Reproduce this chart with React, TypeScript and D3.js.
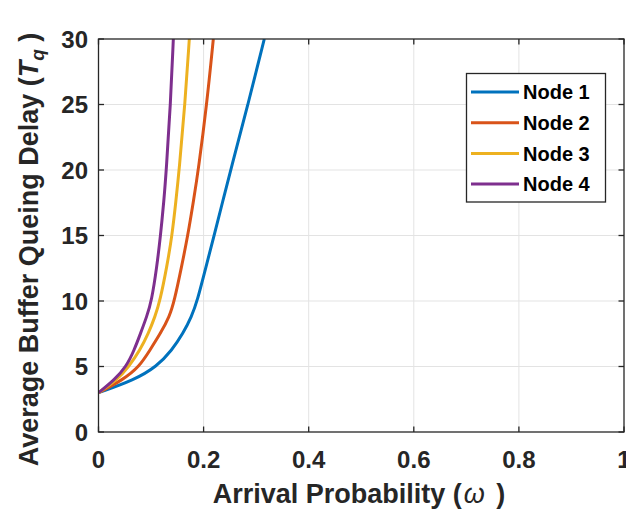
import React, { useEffect, useRef } from 'react';
import * as d3 from 'd3';

// delay values (y) where each curve was read, shared by all nodes
const delayLevels = [3, 3.97, 5, 6.26, 7.53, 8.8, 10, 12.6, 15, 17.7, 20, 25, 30];
// arrival probability (x) of each node at those delay levels
const node1 = [0, 0.068, 0.111, 0.14, 0.161, 0.177, 0.188, 0.2045, 0.22, 0.237, 0.2515, 0.2845, 0.3155];
const node2 = [0, 0.046, 0.078, 0.098, 0.118, 0.135, 0.1443, 0.158, 0.17, 0.181, 0.19, 0.206, 0.2185];
const node3 = [0, 0.035, 0.058, 0.079, 0.095, 0.1075, 0.117, 0.13, 0.14, 0.1475, 0.1535, 0.1645, 0.1728];
const node4 = [0, 0.03, 0.053, 0.068, 0.08, 0.0917, 0.101, 0.111, 0.118, 0.1246, 0.129, 0.137, 0.1424];

const seriesNames = ['Node 1', 'Node 2', 'Node 3', 'Node 4'];
const seriesColors = ['#0072BD', '#D95319', '#EDB120', '#7E2F8E'];
const xTicks = [0, 0.2, 0.4, 0.6, 0.8, 1];
const yTicks = [0, 5, 10, 15, 20, 25, 30];

const App = () => {
  const svgRef = useRef<SVGSVGElement>(null);

  useEffect(() => {
    document.body.style.margin = '0';
    const svg = d3.select(svgRef.current);
    svg.selectAll('*').remove();

    const W = 626;
    const H = 514;
    const left = 98.5;
    const right = 624;
    const top = 39;
    const bottom = 432;
    const axisColor = '#262626';
    const font = 'Liberation Sans, Arial, Helvetica, sans-serif';

    const x = d3.scaleLinear().domain([0, 1]).range([left, right]);
    const y = d3.scaleLinear().domain([0, 30]).range([bottom, top]);

    svg.attr('width', W).attr('height', H);
    svg.append('rect').attr('width', W).attr('height', H).attr('fill', '#fff');

    // grid
    const grid = svg.append('g').attr('stroke', '#e3e3e3').attr('stroke-width', 1);
    xTicks.slice(1, -1).forEach(t => {
      grid.append('line').attr('x1', x(t)).attr('x2', x(t)).attr('y1', top).attr('y2', bottom);
    });
    yTicks.slice(1, -1).forEach(t => {
      grid.append('line').attr('x1', left).attr('x2', right).attr('y1', y(t)).attr('y2', y(t));
    });

    // curves
    const clipId = 'plot-clip';
    svg.append('clipPath').attr('id', clipId)
      .append('rect').attr('x', left).attr('y', top).attr('width', right - left).attr('height', bottom - top);

    const line = d3.line<[number, number]>()
      .x(d => x(d[0]))
      .y(d => y(d[1]))
      .curve(d3.curveBasis);

    [node1, node2, node3, node4].forEach((arr, i) => {
      const pts: [number, number][] = arr.map((w, j) => [w, delayLevels[j]]);
      svg.append('path')
        .attr('d', line(pts))
        .attr('fill', 'none')
        .attr('stroke', seriesColors[i])
        .attr('stroke-width', 3)
        .attr('clip-path', `url(#${clipId})`);
    });

    // box + ticks
    const axes = svg.append('g').attr('stroke', axisColor).attr('stroke-width', 1.3).attr('fill', 'none');
    axes.append('rect').attr('x', left).attr('y', top).attr('width', right - left).attr('height', bottom - top);
    const tl = 5.5;
    xTicks.forEach(t => {
      axes.append('line').attr('x1', x(t)).attr('x2', x(t)).attr('y1', bottom).attr('y2', bottom - tl);
      axes.append('line').attr('x1', x(t)).attr('x2', x(t)).attr('y1', top).attr('y2', top + tl);
    });
    yTicks.forEach(t => {
      axes.append('line').attr('x1', left).attr('x2', left + tl).attr('y1', y(t)).attr('y2', y(t));
      axes.append('line').attr('x1', right).attr('x2', right - tl).attr('y1', y(t)).attr('y2', y(t));
    });

    // tick labels
    svg.append('g').selectAll('text').data(xTicks).enter().append('text')
      .attr('x', d => x(d))
      .attr('y', 468)
      .attr('text-anchor', 'middle')
      .style('font-family', font)
      .style('font-weight', 'bold')
      .style('font-size', '24px')
      .style('fill', axisColor)
      .text(d => d3.format('~g')(d));

    svg.append('g').selectAll('text').data(yTicks).enter().append('text')
      .attr('x', 88)
      .attr('y', d => y(d))
      .attr('dy', '0.36em')
      .attr('text-anchor', 'end')
      .style('font-family', font)
      .style('font-weight', 'bold')
      .style('font-size', '24px')
      .style('fill', axisColor)
      .text(d => d);

    // axis titles
    const xt = svg.append('text')
      .attr('x', 359)
      .attr('y', 503)
      .attr('text-anchor', 'middle')
      .style('font-family', font)
      .style('font-weight', 'bold')
      .style('font-size', '27px')
      .style('fill', axisColor);
    xt.append('tspan').text('Arrival Probability (');
    xt.append('tspan').attr('dx', 2).style('font-style', 'italic').style('font-weight', 'normal').text('ω');
    xt.append('tspan').attr('dx', 4).text(' )');

    const yt = svg.append('text')
      .attr('transform', `translate(38, ${(top + bottom) / 2 + 14}) rotate(-90)`)
      .attr('text-anchor', 'middle')
      .style('font-family', font)
      .style('font-weight', 'bold')
      .style('font-size', '27px')
      .style('fill', axisColor);
    yt.append('tspan').text('Average Buffer Queing Delay (');
    yt.append('tspan').style('font-style', 'italic').text('T');
    yt.append('tspan').style('font-style', 'italic').style('font-size', '19px').attr('dy', 6).text('q');
    yt.append('tspan').attr('dy', -6).text(' )');

    // legend
    const lg = svg.append('g');
    lg.append('rect')
      .attr('x', 466.5).attr('y', 73.5).attr('width', 139).attr('height', 128.5)
      .attr('fill', '#fff').attr('stroke', axisColor).attr('stroke-width', 1.3);
    seriesNames.forEach((name, i) => {
      const ly = 92 + i * 30.7;
      lg.append('line')
        .attr('x1', 471).attr('x2', 519).attr('y1', ly).attr('y2', ly)
        .attr('stroke', seriesColors[i]).attr('stroke-width', 3);
      lg.append('text')
        .attr('x', 523).attr('y', ly).attr('dy', '0.36em')
        .style('font-family', font)
        .style('font-weight', 'bold')
        .style('font-size', '20px')
        .style('fill', '#000')
        .text(name);
    });
  }, []);

  return <svg ref={svgRef} style={{ display: 'block' }}></svg>;
};

export default App;
